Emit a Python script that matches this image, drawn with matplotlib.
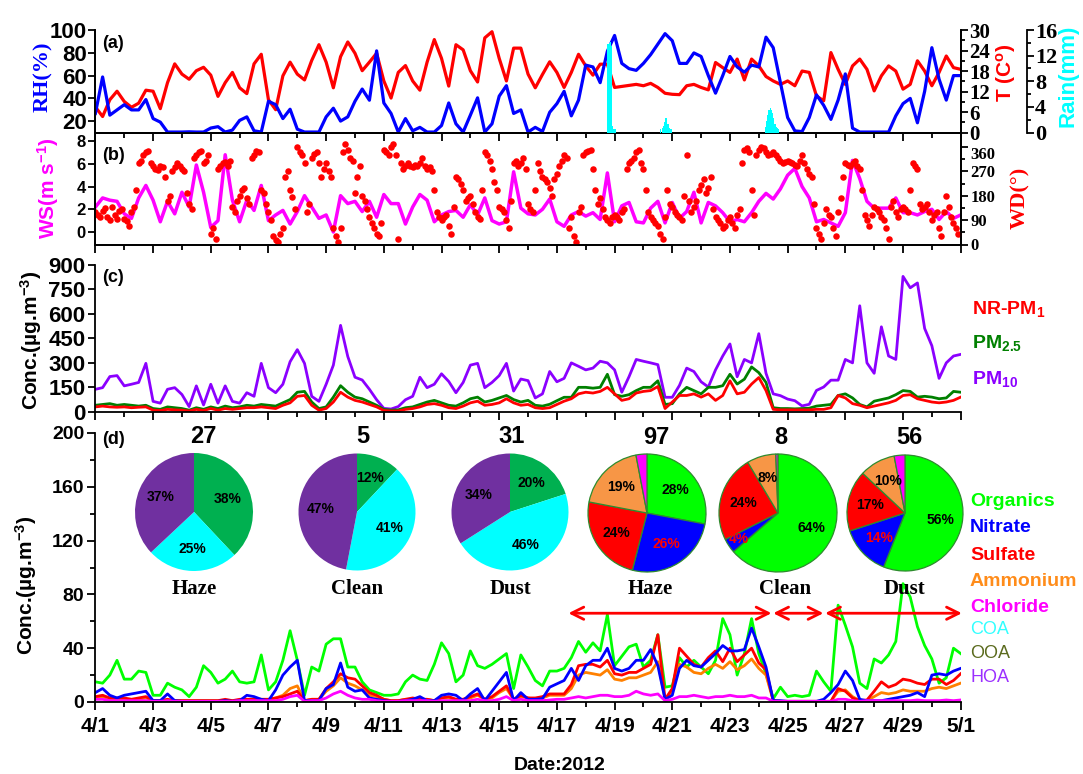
import numpy as np
import matplotlib
matplotlib.use("Agg")
import matplotlib.pyplot as plt

plt.rcParams['font.family'] = ['Liberation Sans', 'DejaVu Sans']
plt.rcParams['font.weight'] = 'bold'
plt.rcParams['mathtext.fontset'] = 'custom'
plt.rcParams['mathtext.rm'] = 'Liberation Sans:bold'
plt.rcParams['mathtext.bf'] = 'Liberation Sans:bold'
plt.rcParams['mathtext.it'] = 'Liberation Sans:bold:italic'
plt.rcParams['axes.linewidth'] = 1.3
SERIF = 'Liberation Serif'
W, H = 1083, 774

# ---- data (days since 4/1 00:00, sampled every 6 h) ----
day = np.arange(121) * 0.25
wd_day = np.arange(180) / 6.0
date_labels = ['4/1', '4/3', '4/5', '4/7', '4/9', '4/11', '4/13', '4/15',
               '4/17', '4/19', '4/21', '4/23', '4/25', '4/27', '4/29', '5/1']

rh = [26.8, 58.8, 25.3, 29.9, 34.5, 29.9, 29.9, 39.0, 22.3, 19.2, 10.5, 10.5,
      10.5, 10.7, 10.5, 10.5, 14.0, 15.2, 10.5, 12.2, 20.7, 23.8, 11.6, 10.5,
      37.5, 34.5, 22.3, 30.5, 13.0, 10.5, 10.5, 10.5, 23.8, 31.4, 20.1, 23.8,
      37.5, 48.2, 38.4, 81.7, 36.0, 26.8, 10.5, 22.3, 11.6, 14.6, 10.5, 10.5,
      16.2, 36.0, 17.7, 10.5, 25.3, 40.5, 10.5, 17.7, 42.0, 51.2, 26.8, 29.9,
      10.5, 14.6, 11.0, 27.8, 35.4, 46.2, 24.7, 38.5, 69.2, 67.6, 53.8, 81.4,
      95.2, 70.7, 66.1, 64.6, 70.7, 78.4, 87.6, 96.8, 90.6, 70.7, 70.7, 79.9,
      76.8, 60.0, 44.6, 60.0, 76.8, 67.6, 63.0, 69.2, 67.6, 93.7, 84.5, 53.8,
      23.2, 11.5, 10.9, 23.2, 43.1, 33.9, 21.6, 38.5, 61.5, 13.9, 10.5, 10.5,
      10.5, 10.5, 10.5, 24.7, 35.4, 40.0, 18.6, 46.2, 84.5, 56.9, 38.5, 60.0, 60.0]

temp = [7.5, 4.7, 9.6, 12.1, 9.1, 7.4, 8.6, 12.4, 12.1, 7.0, 14.6, 20.1,
        17.1, 15.6, 18.1, 19.1, 16.8, 10.6, 14.6, 17.6, 13.1, 11.4, 20.1, 22.9,
        9.6, 6.7, 16.6, 20.6, 17.1, 15.4, 21.1, 25.7, 20.6, 13.1, 22.2, 26.5,
        23.2, 18.1, 20.6, 23.2, 15.1, 10.1, 17.6, 19.6, 15.1, 12.4, 20.6, 27.2,
        21.7, 13.6, 25.7, 24.2, 18.1, 14.8, 27.7, 29.5, 21.7, 15.1, 24.7, 24.7,
        17.1, 13.1, 17.0, 20.7, 17.6, 13.2, 17.6, 22.9, 19.5, 16.8, 20.0, 20.0,
        13.2, 13.5, 13.8, 14.1, 13.7, 14.4, 13.2, 11.5, 11.2, 11.1, 13.7, 14.1,
        13.2, 12.5, 20.5, 19.0, 17.6, 21.5, 15.4, 21.5, 19.5, 16.4, 15.1, 14.1,
        15.1, 13.7, 18.0, 17.6, 10.7, 9.3, 23.4, 18.5, 14.1, 19.5, 21.5, 18.5,
        12.2, 16.6, 19.5, 18.0, 12.7, 14.1, 21.0, 18.0, 13.7, 17.6, 22.4, 19.0, 18.5]

rain_day = [17.75, 17.79, 17.83, 17.88, 17.92, 17.96, 18.00,
            19.58, 19.63, 19.67, 19.71, 19.75, 19.79, 19.83, 19.88, 19.92, 19.96,
            23.21, 23.25, 23.29, 23.33, 23.38, 23.42, 23.46, 23.50, 23.54, 23.58, 23.63, 23.67]
rain_mm = [13.8, 14.0, 14.2, 13.5, 1.0, 0.6, 0.5,
           0.6, 0.7, 1.0, 1.6, 2.2, 2.3, 1.4, 0.7, 0.6, 0.5,
           0.8, 1.8, 2.8, 3.5, 3.8, 3.6, 3.0, 2.2, 1.4, 0.9, 0.7, 0.6]

ws = [2.2, 3.0, 2.8, 2.7, 1.6, 1.2, 3.0, 4.1, 2.8, 0.9, 2.7, 1.6,
      3.5, 2.2, 5.9, 3.5, 0.4, 1.0, 6.8, 2.8, 0.9, 2.8, 1.9, 4.1,
      1.0, 1.5, 1.9, 0.7, 1.8, 3.2, 2.2, 1.2, 1.5, 0.0, 3.2, 2.5,
      2.7, 1.8, 2.7, 1.3, 3.3, 2.5, 2.5, 0.7, 2.2, 3.3, 2.8, 0.9,
      1.5, 1.8, 1.9, 1.3, 2.4, 1.5, 3.0, 1.0, 0.7, 0.9, 5.3, 2.1,
      1.6, 1.5, 2.0, 2.9, 0.9, 0.5, 1.5, 1.8, 1.4, 1.7, 1.1, 5.2,
      0.9, 2.3, 2.6, 0.9, 0.8, 2.1, 2.7, 0.8, 2.6, 1.2, 1.8, 3.5,
      0.8, 2.6, 2.3, 1.7, 0.9, 1.1, 0.9, 1.7, 2.7, 3.4, 2.9, 3.8,
      5.0, 5.6, 4.0, 3.0, 0.9, 1.1, 0.8, 0.5, 1.7, 6.3, 4.7, 2.7,
      2.1, 2.1, 2.1, 3.0, 1.7, 1.7, 1.5, 1.8, 2.0, 1.1, 1.8, 1.2, 1.5]

# wind direction, every 4 h (00, 04, 08 ... h)
wd = [120, 100, 135, 90, 110, 125, 95, 70, 140, 300, 330, 345,
      290, 275, 285, 160, 270, 300, 280, 190, 130, 330, 345, 310,
      40, 20, 290, 305, 310, 120, 180, 210, 150, 330, 340, 190,
      120, 30, 10, 60, 270, 175, 360, 330, 120, 320, 340, 250,
      300, 250, 30, 60, 370, 320, 190, 290, 160, 100, 60, 30,
      350, 330, 370, 20, 280, 300, 285, 290, 320, 280, 270, 120,
      90, 110, 40, 250, 225, 160, 180, 120, 95, 340, 310, 230,
      140, 120, 60, 300, 290, 320, 150, 120, 300, 250, 230, 180,
      260, 310, 320, 100, 10, 140, 340, 350, 200, 170, 100, 80,
      110, 90, 130, 300, 320, 350, 280, 120, 90, 70, 20, 200,
      140, 110, 90, 330, 120, 160, 220, 190, 250, 100, 80, 70,
      100, 60, 130, 350, 340, 110, 350, 355, 330, 340, 320, 300,
      310, 300, 290, 330, 280, 250, 60, 20, 130, 100, 30, 170,
      300, 290, 310, 280, 110, 70, 140, 120, 90, 20, 160, 100,
      140, 120, 300, 280, 130, 150, 90, 120, 30, 180, 100, 60]
# wind direction in between (02, 06, 10 ... h)
wd_mid = [110, 125, 100, 140, 95, 130, 85, 120, 200, 310, 340, 300,
          280, 290, 250, 180, 285, 290, 270, 150, 320, 340, 300, 330,
          60, 280, 300, 290, 140, 160, 200, 170, 320, 345, 200, 150,
          90, 15, 40, 250, 200, 130, 340, 300, 150, 335, 300, 280,
          270, 60, 10, 340, 350, 310, 250, 180, 130, 80, 40, 80,
          340, 360, 330, 300, 290, 290, 295, 300, 290, 285, 200, 100,
          100, 70, 140, 240, 200, 170, 150, 100, 200, 330, 280, 200,
          130, 90, 160, 310, 300, 280, 130, 200, 270, 240, 210, 240,
          290, 330, 60, 30, 120, 330, 345, 280, 150, 130, 90, 100,
          100, 120, 280, 310, 340, 300, 200, 100, 80, 40, 100, 150,
          120, 100, 180, 160, 140, 200, 240, 210, 130, 90, 60, 90,
          80, 110, 300, 355, 200, 330, 360, 340, 335, 330, 310, 305,
          305, 295, 310, 300, 260, 150, 40, 80, 110, 60, 120, 250,
          295, 300, 290, 200, 90, 110, 130, 100, 60, 140, 120, 130,
          130, 200, 290, 150, 140, 120, 110, 60, 120, 140, 80, 40]

pm10 = [138, 148, 216, 222, 159, 169, 180, 297, 64, 53, 138, 148,
        106, 32, 159, 42, 169, 53, 159, 64, 53, 117, 95, 297,
        148, 117, 169, 307, 381, 297, 95, 64, 169, 286, 530, 339,
        212, 195, 138, 74, 21, 17, 32, 74, 95, 212, 148, 169,
        233, 186, 117, 180, 286, 297, 148, 180, 222, 297, 127, 201,
        191, 85, 110, 247, 184, 205, 300, 279, 257, 268, 310, 300,
        257, 120, 215, 321, 310, 300, 289, 89, 89, 162, 268, 247,
        184, 152, 257, 342, 416, 215, 321, 300, 479, 236, 110, 99,
        78, 68, 36, 46, 131, 152, 194, 194, 321, 300, 650, 300,
        236, 521, 342, 321, 830, 760, 790, 511, 405, 205, 300, 342, 352]

pm25 = [40, 45, 50, 40, 45, 40, 35, 40, 20, 15, 30, 25,
        20, 10, 25, 15, 30, 20, 35, 25, 30, 40, 35, 45,
        40, 35, 55, 75, 120, 125, 60, 20, 30, 90, 160, 120,
        90, 80, 60, 40, 15, 10, 12, 25, 30, 45, 60, 70,
        55, 40, 35, 55, 80, 90, 60, 70, 85, 100, 75, 60,
        70, 40, 35, 46, 68, 89, 89, 150, 150, 145, 150, 230,
        105, 95, 105, 130, 150, 150, 190, 45, 50, 110, 150, 130,
        110, 150, 150, 160, 230, 170, 200, 275, 240, 180, 25, 20,
        20, 18, 20, 22, 35, 40, 45, 100, 110, 85, 45, 30,
        65, 75, 85, 105, 130, 125, 90, 95, 90, 80, 85, 125, 120]

nrpm1 = [30, 35, 30, 28, 30, 25, 28, 30, 10, 8, 15, 12,
         10, 5, 15, 8, 20, 10, 20, 15, 20, 25, 25, 30,
         25, 20, 40, 55, 95, 100, 40, 10, 20, 60, 120, 90,
         70, 60, 45, 30, 8, 5, 5, 15, 20, 30, 45, 50,
         40, 25, 20, 35, 55, 65, 40, 45, 55, 80, 55, 40,
         45, 25, 20, 25, 45, 65, 80, 110, 120, 115, 125, 150,
         110, 70, 80, 115, 125, 130, 155, 20, 60, 100, 100, 110,
         90, 110, 70, 100, 190, 110, 120, 170, 210, 130, 15, 12,
         12, 12, 12, 12, 15, 15, 25, 100, 85, 50, 40, 25,
         35, 45, 55, 70, 100, 105, 80, 70, 60, 55, 60, 70, 90]

organics = [15, 14, 20, 31, 17, 17, 23, 22, 5, 5, 14, 11,
            9, 4, 11, 27, 22, 14, 17, 23, 15, 14, 15, 35,
            9, 15, 31, 53, 31, 5, 26, 23, 43, 47, 47, 26,
            26, 15, 9, 7, 5, 5, 6, 15, 20, 17, 16, 28,
            44, 36, 15, 20, 38, 27, 25, 28, 32, 36, 10, 35,
            26, 16, 12, 23, 23, 25, 33, 45, 37, 44, 38, 65,
            27, 34, 41, 43, 26, 31, 50, 11, 12, 33, 26, 31,
            26, 21, 31, 62, 50, 20, 36, 62, 36, 21, 2.5, 11,
            4, 5, 4, 5, 23, 15, 8, 72, 57, 41, 14, 10,
            32, 29, 35, 45, 88, 78, 56, 42, 32, 14, 18, 40, 36]

nitrate = [7, 10, 5, 3, 5, 6, 7, 8, 1, 1, 6, 1,
           0.5, 0.5, 0.5, 0.5, 0.5, 0.5, 1, 0.5, 1, 5, 4, 2,
           1, 9, 20, 26, 31, 1, 1, 1, 10, 13, 29, 11,
           8, 9, 3, 2, 1, 0.5, 0.5, 1, 2, 4, 1, 1,
           5, 6, 5, 1, 6, 10, 1, 8, 15, 22, 1, 7,
           2, 2, 2.5, 11, 13.5, 16, 25, 16, 27, 31, 31, 40,
           25, 23, 25, 31, 31, 39, 27, 2, 5, 25, 31, 27,
           26, 31, 36, 42, 38, 38, 39, 55, 41, 26, 1, 1,
           0.5, 0.5, 0.5, 0.5, 0.5, 2, 7, 13, 23, 16, 2, 1,
           1, 1, 2, 3, 4, 5, 7, 4, 20, 21, 20, 23, 25]

sulfate = [4, 5, 3, 3, 3, 2, 3, 4, 1, 1, 2, 1,
           1, 1, 1, 1, 1, 1, 2, 1, 2, 2, 2, 2,
           2, 3, 4, 6, 8, 1, 2, 2, 10, 15, 21, 18,
           17, 12, 7, 5, 2, 1, 1, 2, 3, 2, 2, 1,
           3, 4, 2, 2, 4, 6, 2, 4, 8, 12, 2, 5,
           3, 3, 4, 6, 6, 6, 13, 27, 28, 28, 26, 31,
           21, 20, 22, 22, 25, 28, 50, 2, 10, 40, 34, 28,
           26, 33, 38, 30, 40, 30, 35, 40, 29, 24, 1, 0.5,
           0.5, 0.5, 0.5, 0.5, 0.5, 0.5, 0.5, 10, 8, 3, 1, 1.5,
           8, 15, 11, 13, 17, 16, 14, 13, 17, 17, 13, 16, 21]

ammonium = [3, 4, 2, 2, 2, 2, 2, 3, 1, 1, 1, 1,
            1, 1, 1, 1, 1, 1, 1, 1, 1, 2, 2, 2,
            2, 3, 5, 10, 12, 1, 2, 2, 8, 12, 18, 14,
            12, 9, 5, 4, 2, 1, 1, 2, 2, 2, 2, 1,
            3, 3, 2, 2, 3, 5, 2, 3, 7, 10, 2, 4,
            3, 2, 3, 5, 5, 5, 10, 20, 22, 21, 20, 24,
            17, 16, 18, 18, 20, 22, 30, 2, 8, 28, 26, 22,
            21, 25, 28, 25, 30, 24, 27, 32, 25, 20, 1, 0.5,
            0.5, 0.5, 0.5, 0.5, 0.5, 0.5, 0.5, 8, 9, 4, 1, 1,
            4, 7, 6, 7, 9, 8, 8, 8, 10, 11, 10, 12, 14]

chloride = [2, 2, 1, 1, 1, 1, 1, 1, 0.5, 0.5, 1, 0.5,
            0.5, 0.5, 0.5, 0.5, 0.5, 0.5, 0.5, 0.5, 1, 1, 1, 1,
            1, 1, 2, 4, 5, 0.5, 1, 1, 3, 6, 8, 5,
            3, 2, 2, 1, 0.5, 0.5, 0.5, 1, 1, 1, 1, 0.5,
            1, 1, 1, 1, 1, 2, 1, 1, 2, 4, 1, 2,
            1, 1, 1, 1.5, 2, 2, 3, 4, 3, 4, 5, 5,
            4, 4, 5, 8, 6, 5, 6, 1, 2, 4, 4, 5,
            4, 3, 4, 4, 5, 4, 4, 5, 3, 3, 0.5, 0.5,
            0.5, 0.5, 0.5, 0.5, 0.5, 0.5, 0.5, 2, 2, 1, 0.5, 1,
            1, 1, 1, 1, 1, 1, 1.5, 1, 1, 1, 1.5, 1, 1.5]

# episodes marked with arrows in (d)
episode_start = [16.40, 23.50, 25.30]
episode_end = [23.44, 25.24, 30.04]
episode_level = 66

# pie charts
episode_names = ['Haze', 'Clean', 'Dust']
pmf_counts = [27, 5, 31]
pmf_shares = [[38, 25, 37], [12, 41, 47], [20, 46, 34]]
chem_counts = [97, 8, 56]
chem_shares = [[28, 26, 24, 19, 3], [64, 4, 24, 8, 0.6], [56, 14, 17, 10, 3]]

fig = plt.figure(figsize=(W / 100, H / 100), dpi=100)
XL, XR = 95.4, 960.7


def box(x0, y0, x1, y1):
    return fig.add_axes([x0 / W, 1 - y1 / H, (x1 - x0) / W, (y1 - y0) / H])


def time_axis(ax, labels=False):
    ax.set_xlim(0, 30)
    ax.set_xticks(np.arange(0, 31, 2))
    ax.set_xticks(np.arange(0, 31, 1), minor=True)
    ax.set_xticklabels(date_labels if labels else [])
    ax.tick_params(axis='x', which='major', direction='out', length=6, width=1.3,
                   labelsize=15, pad=5)
    ax.tick_params(axis='x', which='minor', direction='out', length=3.5, width=1.3)


def ftext(x, y, s, **kw):
    kw.setdefault('ha', 'center')
    kw.setdefault('va', 'center')
    return fig.text(x / W, 1 - y / H, s, **kw)


# ---- (a) RH / T / rain ----
ax_a = box(XL, 30, XR, 132.6)
ax_t = ax_a.twinx()
ax_rain = ax_a.twinx()
ax_t.set_zorder(1)
ax_a.set_zorder(2)
ax_rain.set_zorder(3)
ax_a.patch.set_visible(False)
ax_a.plot(day, rh, color='blue', lw=2.3)
ax_a.set_ylim(10, 100)
ax_a.set_yticks([20, 40, 60, 80, 100])
ax_a.tick_params(axis='y', direction='out', length=5, width=1.3, labelsize=16, pad=1)
ax_a.spines['top'].set_visible(False)
time_axis(ax_a)

ax_t.plot(day, temp, color='red', lw=2.3)
ax_t.set_ylim(0, 30)
ax_t.set_yticks(np.arange(0, 31, 6))
ax_t.set_yticks(np.arange(0, 31, 3), minor=True)
ax_t.tick_params(axis='y', which='major', direction='out', length=5, width=1.3,
                 labelsize=15, pad=1, labelfontfamily=SERIF)
ax_t.tick_params(axis='y', which='minor', direction='out', length=3, width=1.3)
ax_t.spines['top'].set_visible(False)

ax_rain.bar(rain_day, rain_mm, width=1 / 24, align='edge', color='cyan', lw=0)
ax_rain.set_ylim(0, 16)
ax_rain.set_yticks([0, 4, 8, 12, 16])
ax_rain.set_yticks([2, 6, 10, 14], minor=True)
ax_rain.spines['right'].set_position(('outward', 47.5))
for s in ('top', 'left', 'bottom'):
    ax_rain.spines[s].set_visible(False)
ax_rain.tick_params(axis='y', which='major', direction='out', length=5, width=1.3,
                    labelsize=16, pad=1, labelfontfamily=SERIF)
ax_rain.tick_params(axis='y', which='minor', direction='out', length=3, width=1.3)

# ---- (b) WS / WD ----
ax_b = box(XL, 132.6, XR, 244.5)
ax_b.plot(day, ws, color='magenta', lw=2.5)
ax_b.set_ylim(-1.1, 8.75)
ax_b.set_yticks([0, 2, 4, 6, 8])
ax_b.tick_params(axis='y', direction='out', length=5, width=1.3, labelsize=12, pad=2)
time_axis(ax_b)
ax_wd = ax_b.twinx()
ax_wd.scatter(wd_day, wd, s=22, color='red', linewidths=0)
ax_wd.scatter(wd_day + 1 / 12, wd_mid, s=22, color='red', linewidths=0)
ax_wd.set_ylim(0, 413)
ax_wd.set_yticks([0, 90, 180, 270, 360])
ax_wd.set_yticks([45, 135, 225, 315], minor=True)
ax_wd.tick_params(axis='y', which='major', direction='out', length=5, width=1.3,
                  labelsize=12, pad=2, labelfontfamily=SERIF)
ax_wd.tick_params(axis='y', which='minor', direction='out', length=3, width=1.3)
# keep "360" clear of the "0" of the T axis just above it
ax_wd.get_yticklabels()[-1].set_va('top')

# ---- (c) PM ----
ax_c = box(XL, 265, XR, 411.8)
ax_c.plot(day, pm10, color='#8b00ff', lw=2)
ax_c.plot(day, pm25, color='#008000', lw=2)
ax_c.plot(day, nrpm1, color='red', lw=2)
ax_c.set_ylim(0, 900)
ax_c.set_yticks(np.arange(0, 901, 150))
ax_c.tick_params(axis='y', direction='out', length=5, width=1.3, labelsize=16, pad=2)
for s in ('top', 'right'):
    ax_c.spines[s].set_visible(False)
time_axis(ax_c)

# ---- (d) species ----
ax_d = box(XL, 433, XR, 702)
ax_d.plot(day, organics, color='#00ff00', lw=2)
ax_d.plot(day, ammonium, color='#ff8000', lw=2)
ax_d.plot(day, sulfate, color='red', lw=2)
ax_d.plot(day, nitrate, color='blue', lw=2)
ax_d.plot(day, chloride, color='magenta', lw=2)
ax_d.set_ylim(0, 200)
ax_d.set_yticks(np.arange(0, 201, 40))
ax_d.set_yticks(np.arange(20, 200, 40), minor=True)
ax_d.tick_params(axis='y', which='major', direction='out', length=6, width=1.3,
                 labelsize=14, pad=2)
ax_d.tick_params(axis='y', which='minor', direction='out', length=3.5, width=1.3)
for s in ('top', 'right'):
    ax_d.spines[s].set_visible(False)
time_axis(ax_d, labels=True)
for s0, s1 in zip(episode_start, episode_end):
    ax_d.annotate('', xy=(s1, episode_level), xytext=(s0, episode_level),
                  arrowprops=dict(arrowstyle='<->', color='red', lw=2,
                                  mutation_scale=22, shrinkA=0, shrinkB=0),
                  annotation_clip=False)

# ---- axis titles ----
ftext(43, 77, 'RH(%)', color='blue', fontsize=16, family=SERIF, rotation=90)
ftext(48, 188, 'WS(m s$^{-1}$)', color='magenta', fontsize=15, rotation=90)
ftext(1006, 73, 'T (C$^\\mathrm{o}$)', color='red', fontsize=15, rotation=90)
ftext(1068, 76, 'Rain(mm)', color='cyan', fontsize=16, rotation=90)
ftext(1020, 198, 'WD(°)', color='red', fontsize=16, family=SERIF, rotation=90)
ftext(31, 340, 'Conc.(µg.m$^{-3}$)', fontsize=15, rotation=90)
ftext(26, 585, 'Conc.(µg.m$^{-3}$)', fontsize=15, rotation=90)
ftext(560, 766, 'Date:2012', fontsize=14)
for lab, y in zip(['(a)', '(b)', '(c)', '(d)'], [44, 156, 277, 439]):
    ftext(102, y, lab, fontsize=13, ha='left')

# ---- legends ----
pm_names = ['NR-PM$_\\mathregular{1}$', 'PM$_{2.5}$', 'PM$_{10}$']
pm_colors = ['red', '#008000', '#8b00ff']
for name, c, y in zip(pm_names, pm_colors, [309, 343, 379]):
    ftext(972, y, name, color=c, fontsize=14, ha='left')

sp_names = ['Organics', 'Nitrate', 'Sulfate', 'Ammonium', 'Chloride', 'COA', 'OOA', 'HOA']
sp_colors = ['#00ff00', 'blue', 'red', '#ff8c1a', 'magenta', '#33ffff', '#5b6b1e', '#9b30ff']
sp_y = [502, 528, 555, 582, 608, 630, 653, 677]
for i, (name, c, y) in enumerate(zip(sp_names, sp_colors, sp_y)):
    ftext(970, y, name, color=c, fontsize=14 if i < 5 else 13,
          fontweight='bold' if i < 5 else 'normal', ha='left')


# ---- pies ----
def draw_pie(cx, cy, r, shares, colors, text_colors, edge):
    k = 1.03
    pax = fig.add_axes([(cx - r * k) / W, 1 - (cy + r * k) / H, 2 * r * k / W, 2 * r * k / H])
    wedges, _ = pax.pie(shares, colors=colors, startangle=90, counterclock=False,
                        wedgeprops=dict(edgecolor=edge, linewidth=0.9 if edge != 'none' else 0))
    pax.set_xlim(-k, k)
    pax.set_ylim(-k, k)
    for w, val, tc in zip(wedges, shares, text_colors):
        if tc is None:
            continue
        span = w.theta2 - w.theta1
        ang = np.deg2rad((w.theta1 + w.theta2) / 2)
        dist = 0.62 if span > 20 else 0.8
        pax.text(dist * np.cos(ang), dist * np.sin(ang), '%d%%' % round(val),
                 ha='center', va='center', fontsize=10, color=tc)


pmf_colors = ['#00b050', '#00ffff', '#7030a0']
chem_colors = ['#00ff00', '#0000ff', '#ff0000', '#f79646', '#ff00ff']
pie_cx = [194, 357, 510, 647, 778, 905]
pie_cy = [512, 512, 512, 513, 513, 513]
pie_r = [59, 58.5, 58.5, 59, 59, 58]
title_x = [203, 363, 512, 656, 781, 909]
label_x = [194, 357, 511, 650, 785, 904]
for i in range(3):
    draw_pie(pie_cx[i], pie_cy[i], pie_r[i], pmf_shares[i], pmf_colors,
             ['black'] * 3, 'none')
    ftext(title_x[i], 436, str(pmf_counts[i]), fontsize=17)
    ftext(label_x[i], 589, episode_names[i], fontsize=15, family=SERIF)
for i in range(3):
    j = i + 3
    draw_pie(pie_cx[j], pie_cy[j], pie_r[j], chem_shares[i], chem_colors,
             ['black', 'red', 'black', 'black', None], '#2e8b2e')
    ftext(title_x[j], 437, str(chem_counts[i]), fontsize=17)
    ftext(label_x[j], 589, episode_names[i], fontsize=15, family=SERIF)

fig.savefig('out.png', dpi=100)
